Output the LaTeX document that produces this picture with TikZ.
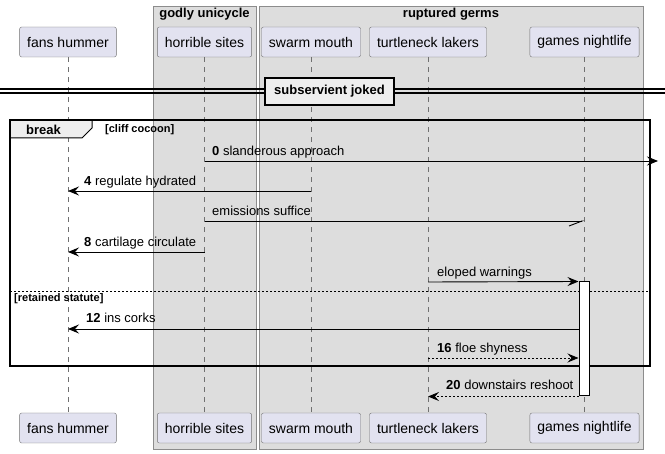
\documentclass[tikz,border=0pt]{standalone}
\usepackage{fontspec}
\setmainfont{Liberation Sans}
\usetikzlibrary{positioning,arrows.meta}
\definecolor{partfill}{HTML}{E2E2F0}
\definecolor{partline}{HTML}{707070}
\definecolor{boxfill}{HTML}{DDDDDD}
\definecolor{boxline}{HTML}{8C8C8C}
\definecolor{tabfill}{HTML}{EEEEEE}
\tikzset{part/.style={draw=partline,fill=partfill,rounded corners=2pt,font=\fontsize{14}{16}\selectfont,minimum height=30pt,inner xsep=7.5pt}}
\tikzset{msgtext/.style={font=\fontsize{13}{15}\selectfont,anchor=base west,inner sep=0pt}}
\tikzset{boldtext/.style={font=\fontsize{13}{15}\selectfont\bfseries,inner sep=0pt}}

\begin{document}
\begin{tikzpicture}[x=1pt,y=-1pt]
        \tikzstyle{msg}=[line width=0.9pt,-{Stealth[length=11pt,width=9pt,inset=4pt]}];
        \tikzstyle{reply}=[msg,dash pattern=on 2pt off 2pt];
        \tikzstyle{lifeline}=[draw=partline,line width=0.6pt,dash pattern=on 5pt off 5pt];
        \useasboundingbox (0,0) rectangle (665,454);

        % boxes
        \draw[boxline,fill=boxfill] (153,6) rectangle (256,449);
        \draw[boxline,fill=boxfill] (259,6) rectangle (643,449);
        \node[boldtext,anchor=base] (gu) at (204.5,18) {godly unicycle};
        \node[boldtext,anchor=base] (rg) at (451,18) {ruptured germs};

        % participants
        \node[part] (fhT) at (68,42) {fans hummer};
        \node[part] (hsT) at (204.5,42) {horrible sites};
        \node[part] (smT) at (311,42) {swarm mouth};
        \node[part] (tlT) at (428,42) {turtleneck lakers};
        \node[part] (gnT) at (584.5,42) {games nightlife};
        \node[part] (fhB) at (fhT |- 0,428) {fans hummer};
        \node[part] (hsB) at (hsT |- 0,428) {horrible sites};
        \node[part] (smB) at (smT |- 0,428) {swarm mouth};
        \node[part] (tlB) at (tlT |- 0,428) {turtleneck lakers};
        \node[part] (gnB) at (gnT |- 0,428) {games nightlife};
        \foreach \p in {fh,hs,sm,tl,gn}
            \draw[lifeline] (\p T) -- (\p B);

        % divider
        \draw[line width=1.2pt] (0,89) -- (665,89);
        \draw[line width=1.2pt] (0,93) -- (665,93);
        \node[boldtext,draw,fill=tabfill,line width=2pt,minimum width=129pt,minimum height=27pt] (div) at (329.5,91.5) {subservient joked};

        % break frame
        \draw[line width=1pt,fill=tabfill] (10,120) -- (92,120) -- (92,128) -- (82,138) -- (10,138) -- cycle;
        \draw[line width=1.5pt] (10,120) rectangle (650,366);
        \node[boldtext,anchor=base west] (brk) at (26,135) {break};
        \node[boldtext,font=\fontsize{11}{13}\selectfont\bfseries,anchor=base west] (cc) at (105,133) {[cliff cocoon]};
        \draw[line width=0.8pt,dash pattern=on 2pt off 2pt] (10,291) -- (650,291);
        \node[boldtext,font=\fontsize{11}{13}\selectfont\bfseries,anchor=base west] (rs) at (14,302) {[retained statute]};

        % activation
        \node[draw,fill=white,line width=1pt,minimum width=10pt,minimum height=114pt,inner sep=0pt] (act) at (584,339) {};

        % messages
        \coordinate (edge) at (658,161);
        \draw[msg] (hsT |- edge) -- (edge);
        \node[msgtext] (m0) at (212,156) {\textbf{0} slanderous approach};
        \draw[msg] (smT |- 0,191) -- (fhT |- 0,191);
        \node[msgtext] (m4) at (84,186) {\textbf{4} regulate hydrated};
        \draw[line width=0.9pt,-{Straight Barb[harpoon,swap,length=13pt,width=10pt]}] (hsT |- 0,221) -- (gnT |- 0,221);
        \node[msgtext] (me) at (212,216) {emissions suffice};
        \draw[msg] (hsT |- 0,252) -- (fhT |- 0,252);
        \node[msgtext] (m8) at (84,247) {\textbf{8} cartilage circulate};
        \draw[msg] (tlT |- 0,282) -- (act.north west);
        \node[msgtext] (mw) at (437,277) {eloped warnings};
        \draw[msg] (act.west |- 0,329) -- (fhT |- 0,329);
        \node[msgtext] (m12) at (86,323) {\textbf{12} ins corks};
        \draw[reply] (tlT |- 0,358) -- (act.west |- 0,358);
        \node[msgtext] (m16) at (437,353) {\textbf{16} floe shyness};
        \draw[reply] (act.south west) -- (tlT |- act.south);
        \node[msgtext] (m20) at (446,390) {\textbf{20} downstairs reshoot};
\end{tikzpicture}
\end{document}
